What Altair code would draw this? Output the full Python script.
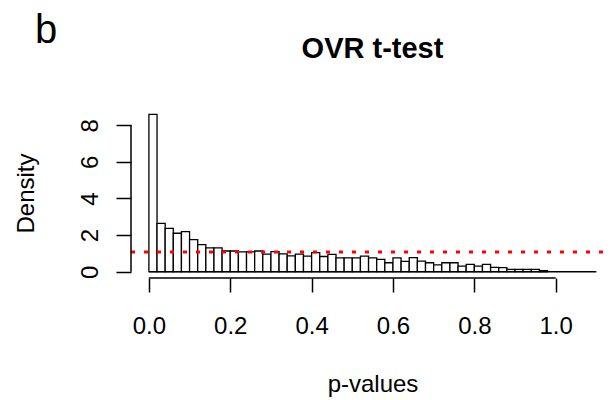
import altair as alt
import pandas as pd

# ---- data (R histogram, 0.02-wide bins, density scale) ----
bin_width = 0.02
density = [8.60, 2.64, 2.37, 2.10, 2.19, 1.75, 1.48, 1.30, 1.30, 1.13,
           1.13, 1.08, 1.08, 1.13, 0.96, 1.10, 0.97, 0.86, 0.96, 0.85,
           1.04, 0.83, 0.95, 0.76, 0.76, 0.76, 0.85, 0.76, 0.67, 0.49,
           0.76, 0.56, 0.77, 0.58, 0.49, 0.37, 0.49, 0.49, 0.31, 0.40,
           0.31, 0.40, 0.24, 0.22, 0.13, 0.13, 0.13, 0.13, 0.06]
bin_start = [round(i * bin_width, 2) for i in range(len(density))]
bin_end = [round((i + 1) * bin_width, 2) for i in range(len(density))]
x_ticks = [0.0, 0.2, 0.4, 0.6, 0.8, 1.0]
y_ticks = [0, 2, 4, 6, 8]
uniform_level = 1.08
baseline_end = 1.1
x_domain = [-0.044, 1.136]
y_domain = [-0.344, 8.944]
main_title = "OVR t-test"
panel_tag = "b"

FONT = "Liberation Sans"
W, H = 480, 170

df = pd.DataFrame({"start": bin_start, "end": bin_end, "density": density})
one = pd.DataFrame({"k": [0]})

xscale = alt.Scale(domain=x_domain, nice=False, zero=False)
yscale = alt.Scale(domain=y_domain, nice=False, zero=False)

x_axis = alt.Axis(
    values=x_ticks, format=".1f", title="p-values", domain=False, grid=False,
    ticks=True, tickSize=14, tickWidth=1.5, tickColor="black",
    labelFont=FONT, labelFontSize=24, labelColor="black", labelPadding=41,
    labelBaseline="alphabetic", labelFlush=False, labelOverlap=False,
    titleFont=FONT, titleFontSize=24, titleFontWeight="normal", titleColor="black",
    titleX=241.5, titleY=113, titleBaseline="alphabetic", titleAlign="center",
)
y_axis = alt.Axis(
    values=y_ticks, format="d", title="Density", domain=False, grid=False,
    ticks=True, tickSize=15, tickWidth=1.5, tickColor="black",
    labelFont=FONT, labelFontSize=24, labelColor="black", labelPadding=19,
    labelAngle=270, labelAlign="center", labelBaseline="alphabetic",
    labelFlush=False, labelOverlap=False,
    titleFont=FONT, titleFontSize=24, titleFontWeight="normal", titleColor="black",
    titleAngle=270, titleX=-98, titleY=85, titleBaseline="alphabetic", titleAlign="center",
)

bars = alt.Chart(df).mark_rect(fill="white", stroke="black", strokeWidth=1.3).encode(
    x=alt.X("start:Q", scale=xscale, axis=x_axis),
    x2="end:Q",
    y=alt.Y("density:Q", scale=yscale, axis=y_axis),
    y2=alt.datum(0),
)

x_line = alt.Chart(one).mark_rule(color="black", strokeWidth=1.5).encode(
    x=alt.datum(x_ticks[0]), x2=alt.datum(x_ticks[-1]), y=alt.value(H)
)
y_line = alt.Chart(one).mark_rule(color="black", strokeWidth=1.5).encode(
    x=alt.value(0), y=alt.datum(y_ticks[0]), y2=alt.datum(y_ticks[-1])
)
base_line = alt.Chart(one).mark_rule(color="black", strokeWidth=1.5).encode(
    x=alt.datum(0), x2=alt.datum(baseline_end), y=alt.datum(0)
)
red_line = alt.Chart(one).mark_rule(color="#ff0000", strokeWidth=3, strokeDash=[4, 9]).encode(
    x=alt.value(0), x2=alt.value(W), y=alt.datum(uniform_level)
)
panel_label = alt.Chart(one).mark_text(
    text=panel_tag, font=FONT, fontSize=40, color="black", align="left", baseline="alphabetic"
).encode(x=alt.value(-96), y=alt.value(-65))
title_text = alt.Chart(one).mark_text(
    text=main_title, font=FONT, fontSize=29, fontWeight="bold", color="black",
    align="center", baseline="alphabetic"
).encode(x=alt.value(W / 2 + 1.5), y=alt.value(-50))

chart = alt.layer(bars, base_line, red_line, x_line, y_line, panel_label, title_text).properties(
    width=W, height=H,
    autosize=alt.AutoSizeParams(type="none"),
    padding={"left": 131, "top": 108, "right": 0, "bottom": 122},
    background="white",
).configure_view(stroke=None)

chart.save("out.html", embed_options={"renderer": "svg", "actions": False})
